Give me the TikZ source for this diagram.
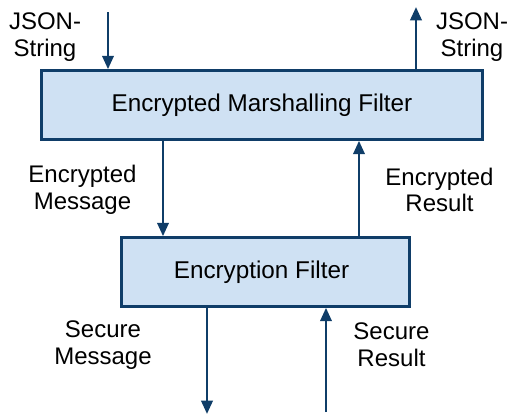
\documentclass[tikz,border=0pt]{standalone}
\usepackage{fontspec}
\setmainfont{Liberation Sans}
\usetikzlibrary{arrows.meta}
\definecolor{navy}{HTML}{0F3D68}
\definecolor{paleblue}{HTML}{CFE1F3}
\tikzset{
  filterbox/.style={draw=navy, fill=paleblue, line width=2.6*0.75pt, minimum height=69*0.75pt, inner sep=0pt,
    font=\fontsize{18.2pt}{20pt}\selectfont},
  flow/.style={draw=navy, line width=2.6*0.75pt, -{Triangle[width=8.5pt,length=10pt]}},
  lbl/.style={align=center, inner sep=0pt, font=\fontsize{18pt}{20pt}\selectfont}
}
\begin{document}
\begin{tikzpicture}[x=0.75pt, y=-0.75pt]
  \useasboundingbox (0,0) rectangle (512,414);

  % the two filters
  \node[filterbox, minimum width=441*0.75pt] (marsh) at (262,105) {Encrypted Marshalling Filter};
  \node[filterbox, minimum width=288*0.75pt] (encr) at (265.5,272) {\hspace*{-6pt}Encryption Filter};

  % free ends of the outer connectors
  \coordinate (jsonin) at (108,12);
  \coordinate (jsonout) at (416,7);
  \coordinate (secout) at (207,414);
  \coordinate (secin) at (326,412);

  % connectors
  \draw[flow] (jsonin) -- (jsonin |- marsh.north);
  \draw[flow] (marsh.north -| jsonout) -- (jsonout);
  \draw[flow] (marsh.south -| 163,0) -- (encr.north -| 163,0);
  \draw[flow] (encr.north -| 359,0) -- (marsh.south -| 359,0);
  \draw[flow] (encr.south -| secout) -- (secout);
  \draw[flow] (secin) -- (secin |- encr.south);

  % labels
  \node[lbl] (l1) at (45,37) {JSON-\\String};
  \node[lbl] (l2) at (472,37) {JSON-\\String};
  \node[lbl] (l3) at (82.5,190) {Encrypted\\Message};
  \node[lbl] (l4) at (439.5,190) {Encrypted\\Result};
  \node[lbl] (l5) at (103,345) {Secure\\Message};
  \node[lbl] (l6) at (391.5,345) {Secure\\Result};
\end{tikzpicture}
\end{document}
